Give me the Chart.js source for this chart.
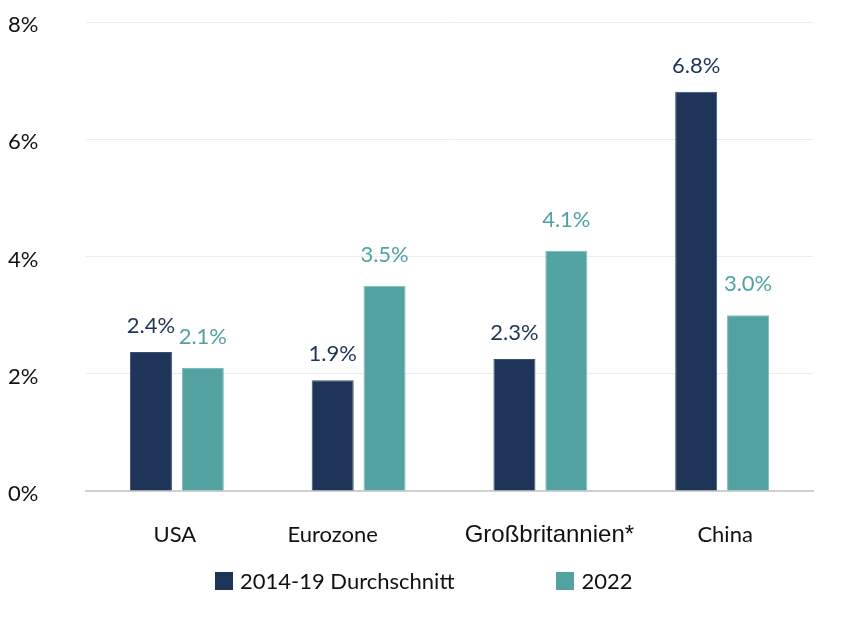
<!DOCTYPE html>
<html>
<head>
<meta charset="utf-8">
<script src="https://cdn.jsdelivr.net/npm/chart.js@4"></script>
<style>
  html, body { margin: 0; padding: 0; background: #fff; }
  #wrap { position: relative; width: 850px; height: 619px; }
  #legend { position: absolute; top: 567px; left: 215px; display: flex; gap: 102px;
    font-family: Lato, sans-serif; font-size: 22px; color: #111; }
  #legend span.item { display: flex; align-items: center; }
  #legend i { display: inline-block; width: 18px; height: 18px; margin-right: 7px; }
</style>
</head>
<body>
<div id="wrap">
  <canvas id="bar-chart" width="850" height="619"></canvas>
  <div id="legend"></div>
</div>
<script>
const categories = ['USA', 'Eurozone', 'Großbritannien*', 'China'];
const avg2014to19 = [2.37, 1.89, 2.25, 6.81];
const year2022 = [2.1, 3.5, 4.1, 3.0];
const seriesNames = ['2014-19 Durchschnitt', '2022'];
const seriesColors = ['#1e3459', '#52a2a2'];
const yTicks = [0, 2, 4, 6, 8];

// small hand offsets so the category names sit where they do in the original
const labelShift = [-2, -26, 9, 3];
const labelGap = [19, 24];

const valueLabels = {
  id: 'valueLabels',
  afterDatasetsDraw(chart) {
    const ctx = chart.ctx;
    ctx.save();
    ctx.font = '22px Lato, sans-serif';
    ctx.textAlign = 'center';
    ctx.textBaseline = 'alphabetic';
    chart.data.datasets.forEach((ds, i) => {
      const meta = chart.getDatasetMeta(i);
      ctx.fillStyle = ds.backgroundColor;
      meta.data.forEach((bar, j) => {
        ctx.fillText(ds.data[j].toFixed(1) + '%', bar.x, bar.y - labelGap[i]);
      });
    });

    // category names under the axis
    const x = chart.scales.x;
    ctx.fillStyle = '#111';
    ctx.textBaseline = 'middle';
    categories.forEach((c, i) => {
      ctx.font = i === 2 ? '24px "Liberation Sans", Arial, sans-serif' : '22px Lato, sans-serif';
      ctx.fillText(c, x.getPixelForTick(i) + labelShift[i], x.top + 44);
    });
    ctx.restore();
  }
};

const chart = new Chart(document.getElementById('bar-chart'), {
  type: 'bar',
  data: {
    labels: categories,
    datasets: [
      { label: seriesNames[0], data: avg2014to19, backgroundColor: seriesColors[0], borderColor: '#3b5078', borderWidth: 1 },
      { label: seriesNames[1], data: year2022, backgroundColor: seriesColors[1], borderColor: '#7dbcbc', borderWidth: 1 }
    ]
  },
  options: {
    responsive: false,
    animation: false,
    categoryPercentage: 0.571,
    barPercentage: 0.81,
    layout: { padding: { left: 8, right: 37, top: 22, bottom: 0 } },
    plugins: {
      legend: { display: false },
      tooltip: { enabled: false }
    },
    scales: {
      x: {
        grid: { display: false },
        border: { color: '#cfcfcf', width: 2 },
        ticks: { display: false },
        afterFit: s => { s.height = 128; }
      },
      y: {
        min: 0,
        max: 8,
        afterBuildTicks: s => { s.ticks = yTicks.map(v => ({ value: v })); },
        grid: { color: '#ececec', drawTicks: false },
        border: { display: false },
        ticks: {
          color: '#111',
          crossAlign: 'far',
          labelOffset: 3,
          font: { family: 'Lato, sans-serif', size: 22 },
          callback: v => v + '%'
        },
        afterFit: s => { s.width = 78; }
      }
    }
  },
  plugins: [valueLabels]
});

document.getElementById('legend').innerHTML = chart.data.datasets.map(ds =>
  '<span class="item"><i style="background:' + ds.backgroundColor + '"></i>' + ds.label + '</span>'
).join('');
</script>
</body>
</html>
